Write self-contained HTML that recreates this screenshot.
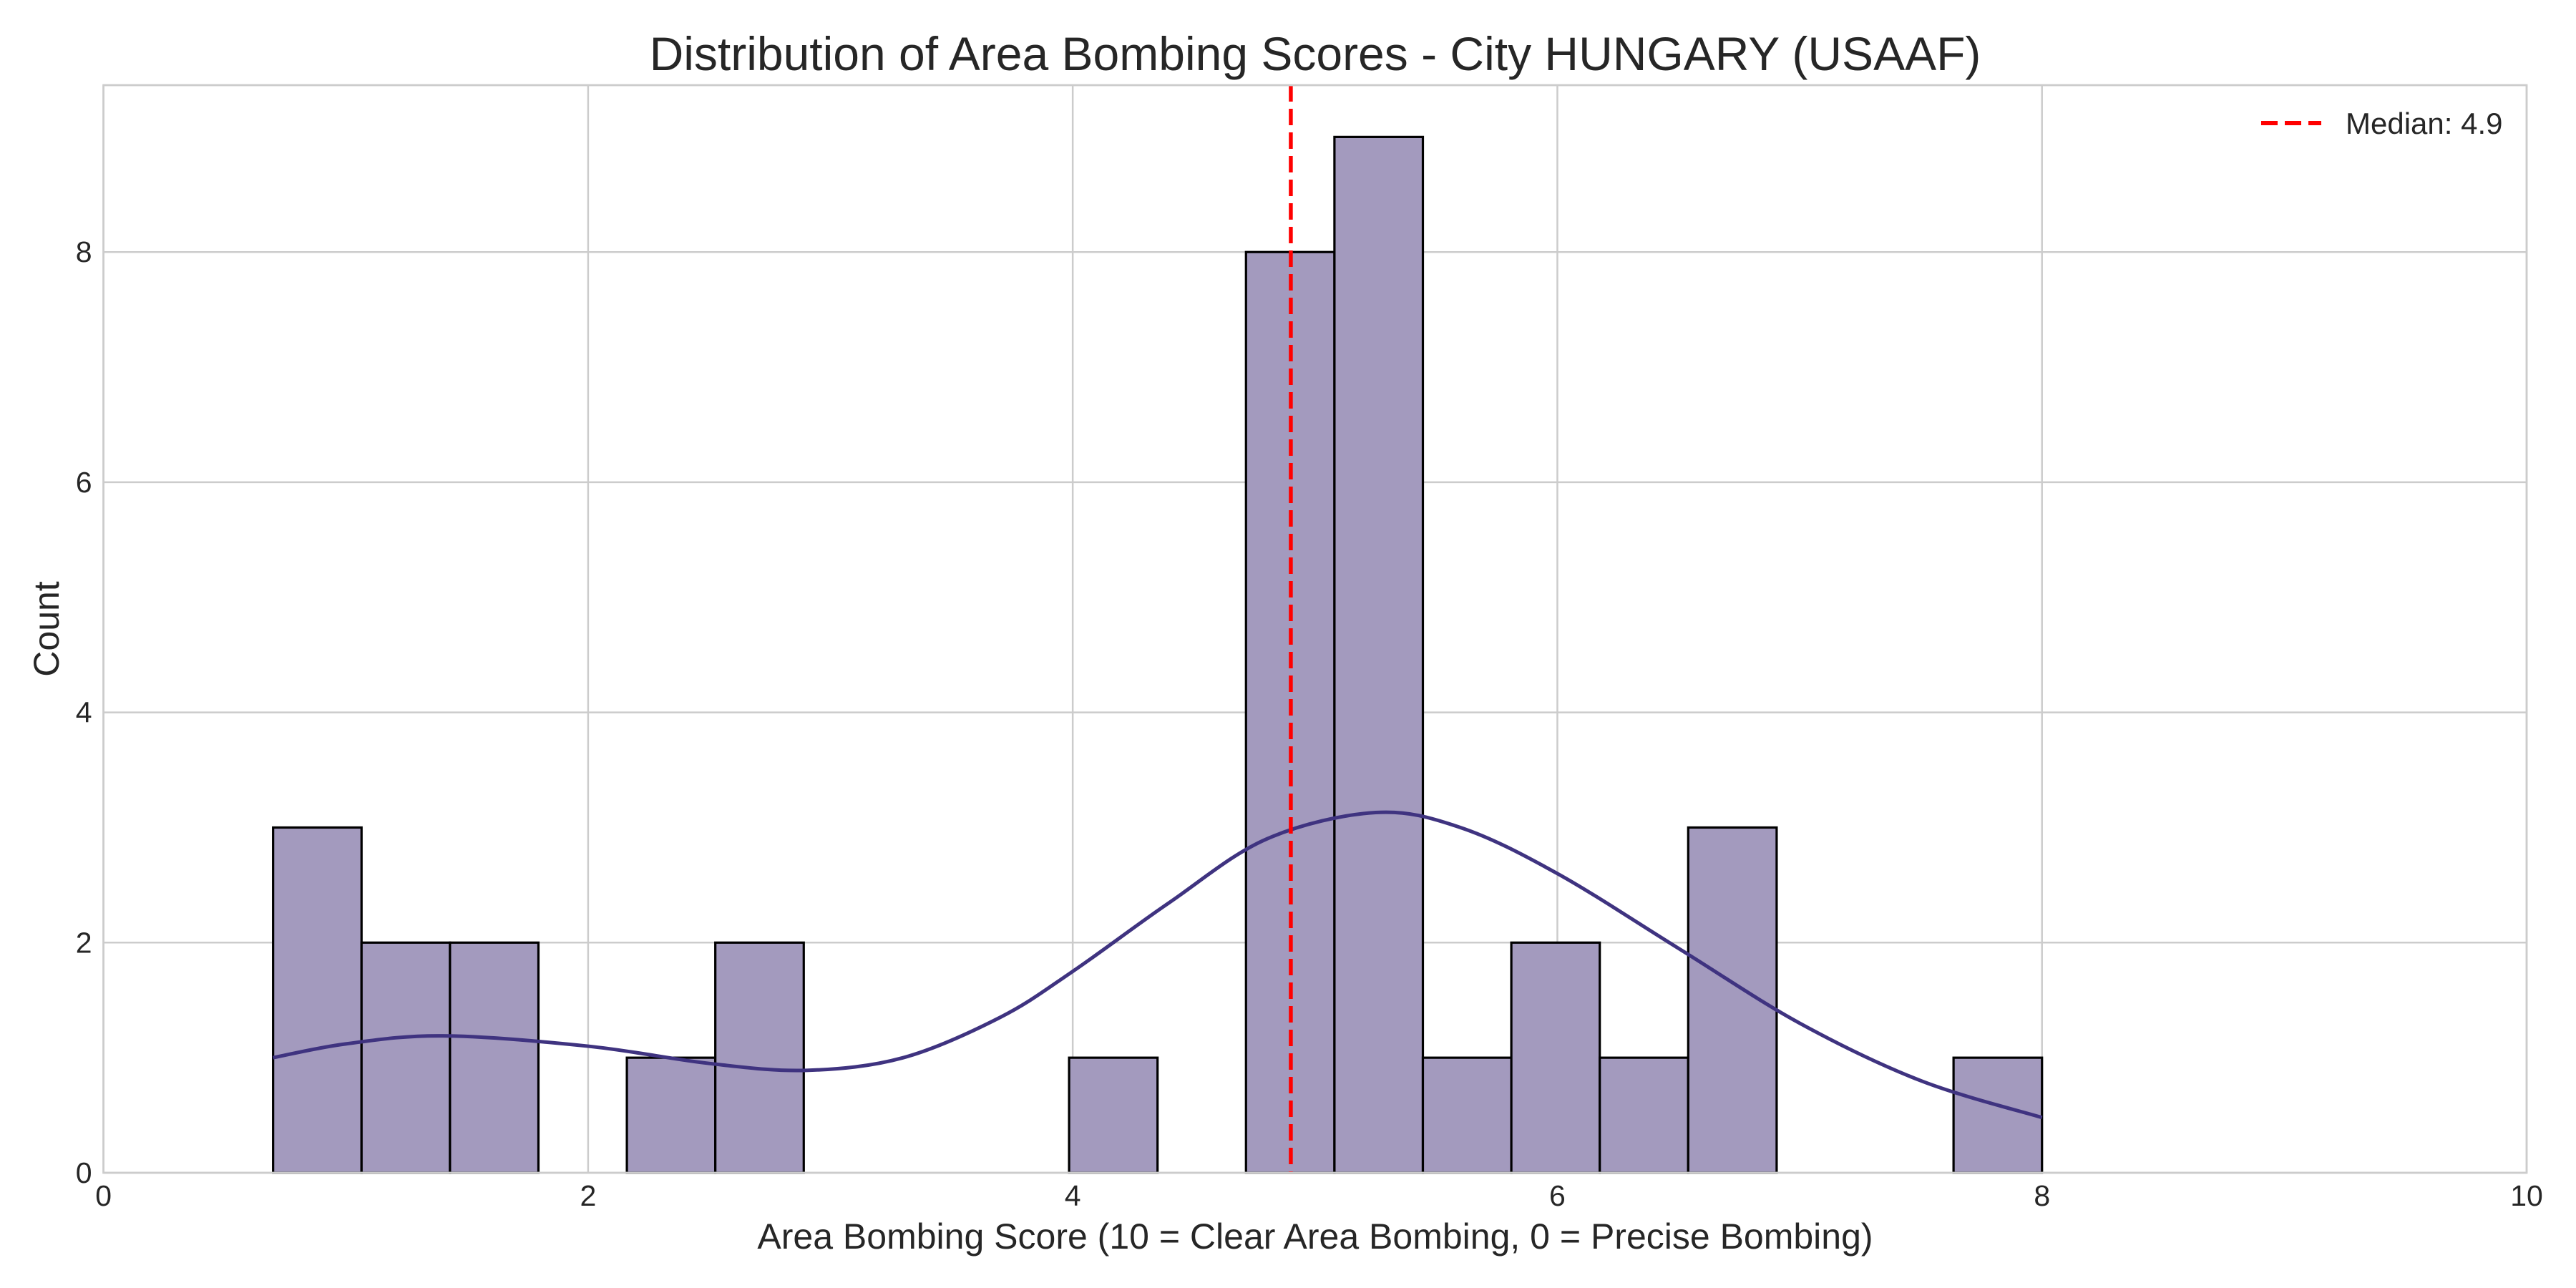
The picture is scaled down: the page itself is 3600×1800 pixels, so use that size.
<!DOCTYPE html>
<html><head><meta charset="utf-8"><style>
html,body{margin:0;padding:0;background:#fff}
svg{display:block;font-family:"Liberation Sans",sans-serif}
</style></head><body>
<svg id="chart" width="3600" height="1800" viewBox="0 0 3600 1800" xmlns="http://www.w3.org/2000/svg">
<rect width="3600" height="1800" fill="#fff"/>
<g id="grid"></g>
<g id="bars"></g>
<g id="kde"></g>
<g id="axes"></g>
<text x="1838" y="98" font-size="66" text-anchor="middle" fill="#262626">Distribution of Area Bombing Scores - City HUNGARY (USAAF)</text>
<text x="1838" y="1745" font-size="50" text-anchor="middle" fill="#262626">Area Bombing Score (10 = Clear Area Bombing, 0 = Precise Bombing)</text>
<text transform="translate(82,879) rotate(-90)" font-size="50" text-anchor="middle" fill="#262626">Count</text>
<g>
<line x1="3160" y1="172" x2="3244" y2="172" stroke="#ff0000" stroke-width="6" stroke-dasharray="23,10"/>
<text x="3278" y="187" font-size="42" fill="#262626">Median: 4.9</text>
</g>
</svg>
<script>
const binStart = 0.7;
const binEnd = 8.0;
const counts = [3,2,2,0,1,2,0,0,0,1,0,8,9,1,2,1,3,0,0,1];
const kdeX = [0.7,1.0,1.4,2.0,2.5,2.9,3.3,3.7,4.0,4.4,4.8,5.25,5.6,6.0,6.5,7.0,7.5,8.0];
const kdeY = [1.0,1.12,1.19,1.1,0.95,0.89,1.0,1.35,1.75,2.35,2.9,3.13,3.0,2.6,1.95,1.3,0.8,0.48];
const medianValue = 4.9;
const xTicks = [0,2,4,6,8,10];
const yTicks = [0,2,4,6,8];

const NS="http://www.w3.org/2000/svg";
const L=144.6,R=3531,T=119,B=1639,yMax=9.45;
const sx=v=>L+(R-L)*v/10;
const sy=v=>B-(B-T)*v/yMax;
function mk(tag,attrs,parent){const e=document.createElementNS(NS,tag);for(const k in attrs)e.setAttribute(k,attrs[k]);parent.appendChild(e);return e;}
const grid=document.getElementById('grid'),bars=document.getElementById('bars'),kde=document.getElementById('kde'),axes=document.getElementById('axes');
xTicks.forEach(t=>{
  const g=mk('line',{x1:sx(t),x2:sx(t),y1:T,y2:B,stroke:'#cccccc','stroke-width':2.5},grid);
  
  
  const tx=mk('text',{x:sx(t),y:1685,'font-size':41,'text-anchor':'middle',fill:'#262626'},axes);
  tx.textContent=t;
  
  
});
yTicks.forEach(t=>{
  const g=mk('line',{x1:L,x2:R,y1:sy(t),y2:sy(t),stroke:'#cccccc','stroke-width':2.5},grid);
  
  
  const tx=mk('text',{x:L-16,y:sy(t)+14,'font-size':41,'text-anchor':'end',fill:'#262626'},axes);
  tx.textContent=t;
  
  
});
const frame=mk('rect',{x:L,y:T,width:R-L,height:B-T,fill:'none',stroke:'#cccccc','stroke-width':2.8},axes);


const w=(binEnd-binStart)/counts.length;
counts.forEach((c,i)=>{
  if(c<=0)return;
  const x0=sx(binStart+i*w),x1=sx(binStart+(i+1)*w);
  const r=mk('rect',{x:x0,y:sy(c),width:x1-x0,height:sy(0)-sy(c),fill:'#a39abe',stroke:'#000','stroke-width':3.2},bars);
  
  
});
const P=kdeX.map((x,i)=>[sx(x),sy(kdeY[i])]);
let d='M'+P[0][0]+','+P[0][1];
for(let i=0;i<P.length-1;i++){
  const p0=P[Math.max(0,i-1)],p1=P[i],p2=P[i+1],p3=P[Math.min(P.length-1,i+2)];
  const c1=[p1[0]+(p2[0]-p0[0])/6,p1[1]+(p2[1]-p0[1])/6];
  const c2=[p2[0]-(p3[0]-p1[0])/6,p2[1]-(p3[1]-p1[1])/6];
  d+=` C${c1[0]},${c1[1]} ${c2[0]},${c2[1]} ${p2[0]},${p2[1]}`;
}
const kp=mk('path',{d:d,fill:'none',stroke:'#3f3380','stroke-width':5},kde);


const ml=mk('line',{x1:sx(medianValue),x2:sx(medianValue),y1:T,y2:B,stroke:'#ff0000','stroke-width':5.5,'stroke-dasharray':'23,10'},kde);


</script>
</body></html>
